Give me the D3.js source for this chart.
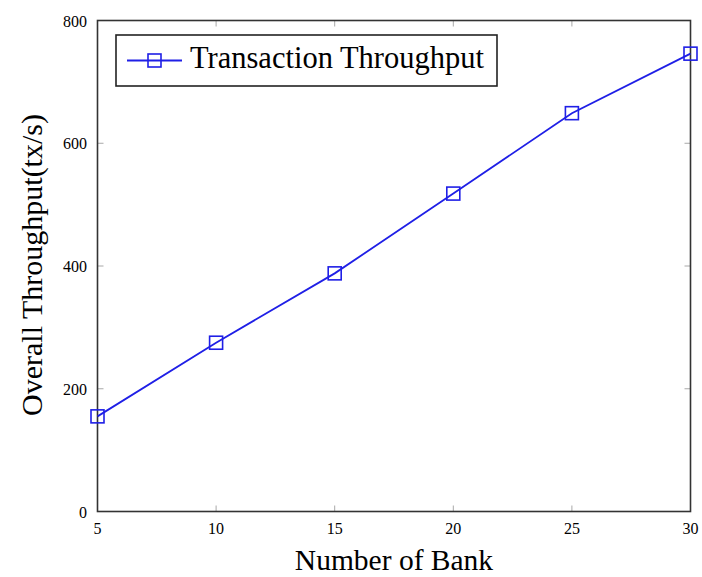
<!DOCTYPE html>
<html>
<head>
<meta charset="utf-8">
<script src="https://cdn.jsdelivr.net/npm/d3@7/dist/d3.min.js"></script>
<style>
  html, body { margin: 0; padding: 0; background: #fff; }
  svg { display: block; }
  text { font-family: "Liberation Serif", "DejaVu Serif", serif; fill: #000; }
</style>
</head>
<body>
<svg id="chart" width="702" height="577"></svg>
<script>
// Throughput measured for each bank count
const banks = [5, 10, 15, 20, 25, 30];
const throughput = [155, 275, 388, 518, 649, 746];
const xTicks = [5, 10, 15, 20, 25, 30];
const yTicks = [0, 200, 400, 600, 800];
const seriesName = "Transaction Throughput";

const svg = d3.select("#chart");
const plot = { left: 97.5, right: 690.5, top: 20.5, bottom: 511.5 };
const blue = "#1f1fe6";

const x = d3.scaleLinear().domain([5, 30]).range([plot.left, plot.right]);
const y = d3.scaleLinear().domain([0, 800]).range([plot.bottom, plot.top]);

const tickLen = 6;
const tickColor = "#a8a8a8";

// Inward tick marks on all four sides
const ticks = svg.append("g").attr("stroke", tickColor).attr("stroke-width", 1);
xTicks.forEach(v => {
  ticks.append("line").attr("x1", x(v)).attr("x2", x(v)).attr("y1", plot.bottom).attr("y2", plot.bottom - tickLen);
  ticks.append("line").attr("x1", x(v)).attr("x2", x(v)).attr("y1", plot.top).attr("y2", plot.top + tickLen);
});
yTicks.forEach(v => {
  ticks.append("line").attr("x1", plot.left).attr("x2", plot.left + tickLen).attr("y1", y(v)).attr("y2", y(v));
  ticks.append("line").attr("x1", plot.right).attr("x2", plot.right - tickLen).attr("y1", y(v)).attr("y2", y(v));
});

// Frame
svg.append("rect")
  .attr("x", plot.left).attr("y", plot.top)
  .attr("width", plot.right - plot.left).attr("height", plot.bottom - plot.top)
  .attr("fill", "none").attr("stroke", "#333").attr("stroke-width", 1.6);

// Tick labels
svg.append("g").selectAll("text").data(xTicks).join("text")
  .attr("x", d => x(d)).attr("y", 534)
  .attr("text-anchor", "middle").attr("font-size", 16)
  .text(d => d);
svg.append("g").selectAll("text").data(yTicks).join("text")
  .attr("x", 87).attr("y", d => y(d) + 6)
  .attr("text-anchor", "end").attr("font-size", 16)
  .text(d => d);

// Axis titles
svg.append("text")
  .attr("x", 394).attr("y", 570)
  .attr("text-anchor", "middle").attr("font-size", 29.5)
  .text("Number of Bank");
svg.append("text")
  .attr("transform", "translate(42,265) rotate(-90)")
  .attr("text-anchor", "middle").attr("font-size", 30)
  .text("Overall Throughput(tx/s)");

// Series line and square markers
const pts = banks.map((b, i) => [b, throughput[i]]);
svg.append("path")
  .datum(pts)
  .attr("fill", "none").attr("stroke", blue).attr("stroke-width", 1.8)
  .attr("d", d3.line().x(d => x(d[0])).y(d => y(d[1])));

const m = 13;
svg.append("g").selectAll("rect").data(pts).join("rect")
  .attr("x", d => x(d[0]) - m / 2).attr("y", d => y(d[1]) - m / 2)
  .attr("width", m).attr("height", m)
  .attr("fill", "none").attr("stroke", blue).attr("stroke-width", 1.6);

// Legend
const lg = svg.append("g");
lg.append("rect")
  .attr("x", 116).attr("y", 35).attr("width", 381).attr("height", 51)
  .attr("fill", "#fff").attr("stroke", "#222").attr("stroke-width", 1.6);
lg.append("line")
  .attr("x1", 127).attr("x2", 182).attr("y1", 60.5).attr("y2", 60.5)
  .attr("stroke", blue).attr("stroke-width", 1.8);
lg.append("rect")
  .attr("x", 148).attr("y", 54).attr("width", 13).attr("height", 13)
  .attr("fill", "none").attr("stroke", blue).attr("stroke-width", 1.6);
lg.append("text")
  .attr("x", 190).attr("y", 68).attr("font-size", 30.5)
  .text(seriesName);
</script>
</body>
</html>
